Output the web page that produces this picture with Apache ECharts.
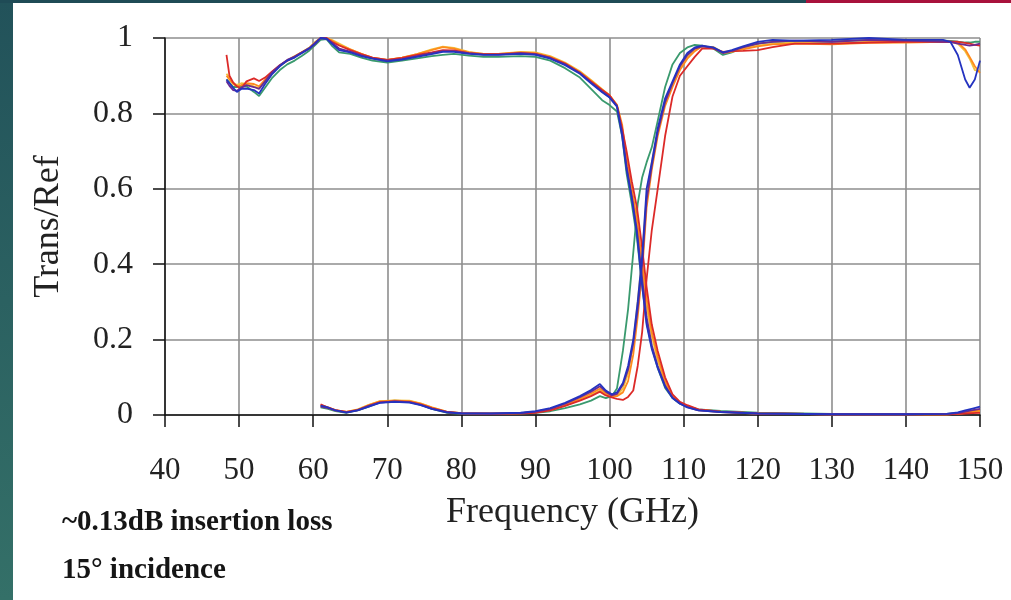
<!DOCTYPE html>
<html>
<head>
<meta charset="utf-8">
<title>Trans/Ref vs Frequency</title>
<script src="https://cdn.jsdelivr.net/npm/echarts@6/dist/echarts.min.js"></script>
<style>
  html, body { margin: 0; padding: 0; background: #ffffff; }
  #chart { width: 1011px; height: 600px; }
</style>
</head>
<body>
<div id="chart"></div>
<script>
// Frequency grid (GHz) for the curves that start near 48 GHz and fall at ~104 GHz
const freqA = [48.3, 48.7, 49.2, 49.7, 50.3, 51, 52, 52.7, 53.5, 54.5, 55.5, 56.5, 57.5, 58.5, 59.5, 60.3,
  61, 61.8, 62.5, 63.5, 65, 66.5, 68, 70, 72, 74, 76, 77.5, 79, 81, 83, 85, 88, 90, 92, 94, 96, 97.5,
  99, 100, 101, 101.7, 102.3, 103, 103.7, 104.3, 105, 105.7, 106.5, 107.5, 108.5, 109.5, 110.5, 112,
  115, 120, 130, 140, 145.5, 147, 148, 149, 150];

// Frequency grid (GHz) for the curves that start at 61 GHz and rise at ~104 GHz
const freqB = [61, 62, 63, 64.5, 66, 67.5, 69, 71, 73, 74.5, 76, 78, 80, 84, 88, 90, 92, 94, 96, 97.5,
  98.7, 99.5, 100.3, 101, 101.8, 102.5, 103.2, 103.8, 104.4, 105, 105.7, 106.5, 107.5, 108.5, 109.5,
  110.5, 111.5, 112.5, 114, 115.3, 116.5, 118, 120, 122, 125, 130, 135, 140, 145, 146, 147, 148,
  148.6, 149.3, 150];

const fallBlue = [0.89, 0.88, 0.868, 0.857, 0.865, 0.866, 0.862, 0.853, 0.878, 0.905, 0.925, 0.94, 0.948, 0.96, 0.972, 0.985,
  1.0, 0.998, 0.985, 0.968, 0.962, 0.952, 0.945, 0.938, 0.943, 0.95, 0.957, 0.963, 0.963, 0.958, 0.955, 0.955, 0.958, 0.955, 0.945, 0.928, 0.905, 0.88,
  0.856, 0.842, 0.818, 0.74, 0.65, 0.575, 0.48, 0.36, 0.24, 0.175, 0.125, 0.075, 0.045, 0.03, 0.02, 0.012,
  0.008, 0.004, 0.002, 0.002, 0.003, 0.007, 0.012, 0.017, 0.022];
const fallPurple = [0.885, 0.873, 0.862, 0.86, 0.868, 0.875, 0.87, 0.865, 0.885, 0.91, 0.928, 0.942, 0.951, 0.962, 0.974, 0.988,
  1.0, 0.998, 0.988, 0.972, 0.964, 0.954, 0.946, 0.94, 0.944, 0.952, 0.96, 0.965, 0.965, 0.96, 0.956, 0.956, 0.96, 0.957, 0.947, 0.93, 0.907, 0.882,
  0.858, 0.843, 0.82, 0.75, 0.66, 0.58, 0.49, 0.38, 0.26, 0.185, 0.13, 0.078, 0.046, 0.031, 0.021, 0.012,
  0.008, 0.004, 0.002, 0.002, 0.003, 0.005, 0.009, 0.013, 0.016];
const fallRed = [0.955, 0.9, 0.882, 0.872, 0.866, 0.885, 0.893, 0.886, 0.895, 0.912, 0.928, 0.94, 0.95, 0.962, 0.972, 0.985,
  1.0, 1.0, 0.99, 0.98, 0.968, 0.957, 0.948, 0.942, 0.947, 0.955, 0.962, 0.968, 0.967, 0.96, 0.957, 0.957, 0.96, 0.958, 0.948, 0.932, 0.908, 0.885,
  0.862, 0.848, 0.82, 0.76, 0.7, 0.62, 0.55, 0.46, 0.34, 0.24, 0.17, 0.1, 0.055, 0.035, 0.026, 0.015,
  0.009, 0.004, 0.002, 0.002, 0.002, 0.003, 0.004, 0.005, 0.006];
const fallOrange = [0.9, 0.89, 0.878, 0.872, 0.875, 0.88, 0.878, 0.872, 0.89, 0.91, 0.927, 0.94, 0.95, 0.962, 0.973, 0.987,
  1.0, 1.0, 0.993, 0.982, 0.97, 0.958, 0.948, 0.942, 0.948, 0.957, 0.968, 0.976, 0.972, 0.962, 0.958, 0.958, 0.962, 0.96, 0.95, 0.933, 0.91, 0.887,
  0.863, 0.847, 0.823, 0.77, 0.68, 0.6, 0.52, 0.42, 0.31, 0.22, 0.155, 0.09, 0.05, 0.033, 0.024, 0.014,
  0.009, 0.004, 0.002, 0.002, 0.002, 0.003, 0.006, 0.009, 0.012];
const fallYellow = [0.905, 0.895, 0.88, 0.876, 0.88, 0.878, 0.872, 0.868, 0.885, 0.908, 0.926, 0.94, 0.952, 0.963, 0.975, 0.99,
  1.0, 1.0, 0.995, 0.985, 0.97, 0.958, 0.947, 0.942, 0.948, 0.957, 0.97, 0.977, 0.974, 0.963, 0.958, 0.958, 0.963, 0.962, 0.952, 0.935, 0.912, 0.889,
  0.864, 0.848, 0.822, 0.76, 0.67, 0.59, 0.5, 0.4, 0.29, 0.21, 0.145, 0.085, 0.05, 0.032, 0.022, 0.013,
  0.008, 0.004, 0.002, 0.002, 0.002, 0.003, 0.005, 0.008, 0.01];
const fallGreen = [0.89, 0.882, 0.87, 0.87, 0.872, 0.872, 0.857, 0.846, 0.868, 0.895, 0.915, 0.93, 0.94, 0.953, 0.967, 0.982,
  0.995, 0.997, 0.98, 0.962, 0.958, 0.948, 0.94, 0.935, 0.94, 0.946, 0.952, 0.955, 0.958, 0.953, 0.95, 0.95, 0.952, 0.95, 0.94, 0.92, 0.895, 0.865,
  0.835, 0.822, 0.805, 0.74, 0.64, 0.56, 0.47, 0.36, 0.245, 0.18, 0.125, 0.072, 0.045, 0.03, 0.022, 0.015,
  0.011, 0.006, 0.003, 0.003, 0.003, 0.005, 0.008, 0.01, 0.012];

const riseBlue = [0.025, 0.02, 0.012, 0.006, 0.012, 0.022, 0.032, 0.035, 0.033, 0.026, 0.016, 0.007, 0.004, 0.004, 0.006, 0.01, 0.018, 0.032, 0.05, 0.066,
  0.082, 0.065, 0.055, 0.06, 0.085, 0.13, 0.2, 0.3, 0.42, 0.6, 0.67, 0.76, 0.84, 0.885, 0.93,
  0.96, 0.975, 0.98, 0.975, 0.962, 0.968, 0.978, 0.99, 0.995, 0.993, 0.995, 1.0, 0.995, 0.995, 0.99, 0.955, 0.89,
  0.868, 0.89, 0.94];
const risePurple = [0.022, 0.018, 0.012, 0.007, 0.013, 0.024, 0.033, 0.036, 0.034, 0.027, 0.017, 0.008, 0.005, 0.004, 0.005, 0.009, 0.016, 0.03, 0.047, 0.062,
  0.076, 0.062, 0.052, 0.056, 0.08, 0.12, 0.19, 0.28, 0.4, 0.57, 0.66, 0.75, 0.83, 0.88, 0.925,
  0.955, 0.972, 0.978, 0.974, 0.96, 0.966, 0.975, 0.985, 0.99, 0.993, 0.99, 0.995, 0.993, 0.99, 0.99, 0.985, 0.982,
  0.98, 0.982, 0.985];
const riseRed = [0.028, 0.02, 0.013, 0.008, 0.013, 0.024, 0.034, 0.036, 0.035, 0.028, 0.018, 0.008, 0.004, 0.003, 0.004, 0.006, 0.012, 0.024, 0.038, 0.05,
  0.062, 0.052, 0.047, 0.043, 0.04, 0.048, 0.065, 0.13, 0.22, 0.36, 0.49, 0.6, 0.74, 0.845, 0.9,
  0.925, 0.95, 0.972, 0.972, 0.963, 0.965, 0.966, 0.968, 0.976, 0.985, 0.985, 0.988, 0.99, 0.99, 0.99, 0.99, 0.987,
  0.985, 0.982, 0.98];
const riseOrange = [0.026, 0.02, 0.013, 0.008, 0.014, 0.026, 0.036, 0.038, 0.037, 0.03, 0.02, 0.009, 0.005, 0.004, 0.005, 0.008, 0.014, 0.027, 0.043, 0.057,
  0.07, 0.058, 0.05, 0.05, 0.06, 0.09, 0.16, 0.26, 0.38, 0.55, 0.65, 0.74, 0.82, 0.87, 0.915,
  0.945, 0.965, 0.978, 0.975, 0.96, 0.963, 0.97, 0.978, 0.983, 0.985, 0.983, 0.987, 0.988, 0.99, 0.99, 0.988, 0.97,
  0.95, 0.925, 0.907];
const riseYellow = [0.024, 0.019, 0.012, 0.008, 0.015, 0.027, 0.037, 0.039, 0.038, 0.031, 0.02, 0.009, 0.005, 0.004, 0.005, 0.008, 0.013, 0.025, 0.04, 0.053,
  0.065, 0.055, 0.05, 0.052, 0.07, 0.11, 0.19, 0.3, 0.42, 0.58, 0.67, 0.75, 0.83, 0.88, 0.92,
  0.95, 0.968, 0.978, 0.976, 0.962, 0.965, 0.973, 0.98, 0.985, 0.988, 0.985, 0.99, 0.99, 0.99, 0.99, 0.985, 0.965,
  0.945, 0.915, 0.912];
const riseGreen = [0.02, 0.016, 0.01, 0.006, 0.012, 0.022, 0.034, 0.038, 0.036, 0.028, 0.016, 0.006, 0.003, 0.003, 0.004, 0.006, 0.01, 0.018, 0.028, 0.038,
  0.05, 0.045, 0.05, 0.07, 0.17, 0.28, 0.43, 0.56, 0.63, 0.67, 0.71, 0.78, 0.87, 0.93, 0.96,
  0.975, 0.982, 0.98, 0.972, 0.955, 0.962, 0.975, 0.985, 0.99, 0.99, 0.99, 0.995, 0.993, 0.993, 0.992, 0.99, 0.988,
  0.988, 0.99, 0.99];

const xTicks = { min: 40, max: 150, step: 10 };
const yTicks = { min: 0, max: 1, step: 0.2 };

const palette = {
  green: '#3a9a6e',
  yellow: '#f2c23e',
  orange: '#ff8a1c',
  red: '#dc2a28',
  purple: '#6c2a90',
  blue: '#2433c0'
};

function pairs(xs, ys) {
  return xs.map((x, i) => [x, ys[i]]);
}

// Drawing order: later entries are painted on top
const curves = [
  ['green', freqA, fallGreen], ['green', freqB, riseGreen],
  ['yellow', freqA, fallYellow], ['yellow', freqB, riseYellow],
  ['orange', freqA, fallOrange], ['orange', freqB, riseOrange],
  ['red', freqA, fallRed], ['red', freqB, riseRed],
  ['purple', freqA, fallPurple], ['purple', freqB, risePurple],
  ['blue', freqA, fallBlue], ['blue', freqB, riseBlue]
];

const series = curves.map(([c, xs, ys], i) => ({
  name: c + '-' + i,
  type: 'line',
  data: pairs(xs, ys),
  symbol: 'none',
  smooth: false,
  lineStyle: { color: palette[c], width: 1.8 },
  itemStyle: { color: palette[c] },
  z: 3 + i
}));

const serif = '"Liberation Serif", "Times New Roman", serif';

const chart = echarts.init(document.getElementById('chart'), null, { renderer: 'canvas' });
chart.setOption({
  animation: false,
  backgroundColor: '#ffffff',
  grid: { left: 165, right: 31, top: 38, bottom: 185, outerBoundsMode: 'none', containLabel: false },
  xAxis: {
    type: 'value',
    min: xTicks.min, max: xTicks.max, interval: xTicks.step,
    name: 'Frequency (GHz)',
    nameLocation: 'middle',
    nameGap: 80,
    nameTextStyle: { fontFamily: serif, fontSize: 36, color: '#222' },
    axisLine: { show: true, onZero: false, lineStyle: { color: '#111', width: 1.5 } },
    axisTick: { show: true, inside: false, length: 12, lineStyle: { color: '#111', width: 1.5 } },
    axisLabel: { fontFamily: serif, fontSize: 31, color: '#222', margin: 40 },
    splitLine: { show: true, lineStyle: { color: '#8e8e8e', width: 1.6 } }
  },
  yAxis: {
    type: 'value',
    min: yTicks.min, max: yTicks.max, interval: yTicks.step,
    name: 'Trans/Ref',
    nameLocation: 'middle',
    nameGap: 98,
    nameRotate: 90,
    nameTextStyle: { fontFamily: serif, fontSize: 36, color: '#222' },
    axisLine: { show: true, lineStyle: { color: '#111', width: 1.5 } },
    axisTick: { show: true, inside: false, length: 12, lineStyle: { color: '#111', width: 1.5 } },
    axisLabel: { fontFamily: serif, fontSize: 32, color: '#222', margin: 32 },
    splitLine: { show: true, lineStyle: { color: '#8e8e8e', width: 1.6 } }
  },
  graphic: [
    {
      type: 'rect', left: 0, top: 0, z: 100,
      shape: { width: 13, height: 600 },
      style: {
        fill: new echarts.graphic.LinearGradient(0, 0, 0, 1, [
          { offset: 0, color: '#22525a' },
          { offset: 1, color: '#347068' }
        ])
      }
    },
    { type: 'rect', left: 0, top: 0, z: 100, shape: { width: 806, height: 3 }, style: { fill: '#1f4b56' } },
    { type: 'rect', left: 806, top: 0, z: 100, shape: { width: 205, height: 3 }, style: { fill: '#a8123c' } },
    {
      type: 'text', left: 62, top: 508, z: 100,
      style: { text: '~0.13dB insertion loss', font: 'bold 29px ' + serif, fill: '#151515' }
    },
    {
      type: 'text', left: 62, top: 556, z: 100,
      style: { text: '15° incidence', font: 'bold 29px ' + serif, fill: '#151515' }
    }
  ],
  series: series
});
</script>
</body>
</html>
